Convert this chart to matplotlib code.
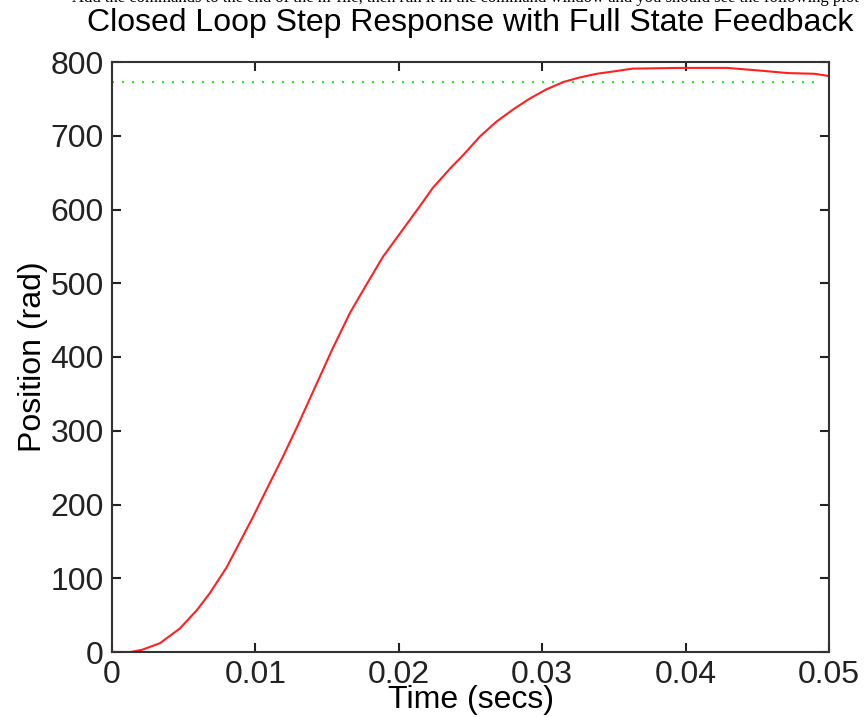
import matplotlib
matplotlib.use("Agg")
import matplotlib.pyplot as plt
import numpy as np

plt.rcParams['font.family'] = ['Liberation Sans', 'DejaVu Sans']

# step response
t = [0, 0.0013, 0.0021, 0.00335, 0.00474, 0.00593, 0.00683, 0.0080, 0.0087,
     0.00983, 0.0110, 0.0119, 0.0129, 0.0143, 0.0154, 0.0166, 0.0178, 0.0189,
     0.0201, 0.0213, 0.0224, 0.0236, 0.0245, 0.02566, 0.0268, 0.0280, 0.0291,
     0.0303, 0.0315, 0.0326, 0.0338, 0.0349, 0.0363, 0.0396, 0.0429, 0.0454,
     0.0471, 0.0490, 0.0500]
pos = [0, 0, 3, 12, 32, 57, 80, 115, 141,
       183, 229, 264, 305, 365, 412, 460, 500, 536,
       568, 600, 630, 656, 674, 699, 719, 736, 750,
       763, 773, 779, 784, 787, 791, 792, 792, 788,
       785, 784, 781]
ref_level = 773
xticks = [0, 0.01, 0.02, 0.03, 0.04, 0.05]
xticklabels = ['0', '0.01', '0.02', '0.03', '0.04', '0.05']
yticks = [0, 100, 200, 300, 400, 500, 600, 700, 800]

fig = plt.figure(figsize=(8.64, 7.17), dpi=100)
ax = fig.add_axes([112/864, 1-652/717, (829-112)/864, (652-62)/717])

ax.plot([0, 0.0495], [ref_level, ref_level], color='#22ee22', lw=1.5,
        linestyle=(0, (1, 3.8)))
ax.plot(t, pos, color='#ff2020', lw=1.5)

ax.set_xlim(0, 0.05)
ax.set_ylim(0, 800)
ax.set_xticks(xticks)
ax.set_xticklabels(xticklabels)
ax.set_yticks(yticks)
ax.tick_params(direction='in', length=6.5, width=1.5, labelsize=23, pad=6,
               top=True, right=True, colors='#222222')
for s in ax.spines.values():
    s.set_linewidth(1.5)
    s.set_color('#333333')

ax.set_title('Closed Loop Step Response with Full State Feedback', fontsize=23, pad=22)
ax.set_xlabel('Time (secs)', fontsize=23, labelpad=-4)
ax.set_ylabel('Position (rad)', fontsize=23, labelpad=2)

# clipped line of page text above the figure
fig.text(72/864, 1-1.5/717,
         'Add the commands to the end of the m-file, then run it in the command window and you should see the following plot',
         family='Liberation Serif', fontsize=12, va='baseline', ha='left')

fig.savefig('out.png', dpi=100)
